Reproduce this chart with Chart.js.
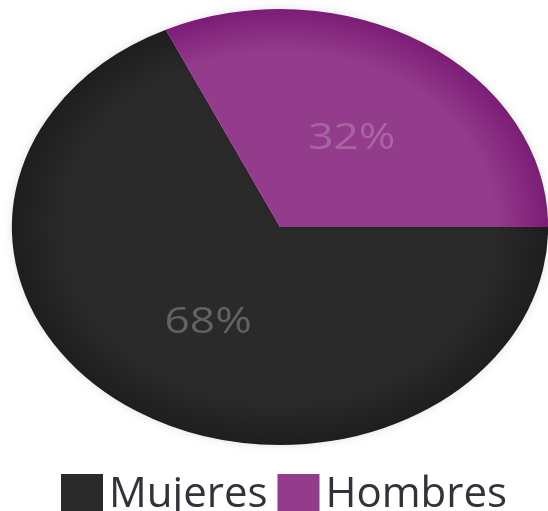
<!DOCTYPE html>
<html>
<head>
<meta charset="utf-8">
<script src="https://cdn.jsdelivr.net/npm/chart.js@4.4.1/dist/chart.umd.min.js"></script>
<style>
  html, body { margin: 0; padding: 0; background: #fff; overflow: hidden; }
  #wrap { width: 548px; height: 511px; }
</style>
</head>
<body>
<div id="wrap"><canvas id="pieChart"></canvas></div>
<script>
const labels = ['Mujeres', 'Hombres'];
const values = [68, 32];
const sliceColors = ['#2a2a2a', '#943c8c'];
const rimColors = ['#1e1e1e', '#7c1c76'];
const valueColors = ['#626262', '#a766a0'];

// the pie in the picture is squashed into an ellipse
const stretchX = 1.23;

function arcCenter(chart) {
  const a = chart.getDatasetMeta(0).data[0];
  return { x: a.x, y: a.y, r: a.outerRadius };
}

function sliceFill(ctx) {
  const chart = ctx.chart;
  const area = chart.chartArea;
  if (!area) return sliceColors[ctx.dataIndex];
  const cx = (area.left + area.right) / 2;
  const cy = (area.top + area.bottom) / 2;
  const r = Math.min(area.right - area.left, area.bottom - area.top) / 2;
  const g = chart.ctx.createRadialGradient(cx, cy, 0, cx, cy, r);
  g.addColorStop(0, sliceColors[ctx.dataIndex]);
  g.addColorStop(0.8, sliceColors[ctx.dataIndex]);
  g.addColorStop(1, rimColors[ctx.dataIndex]);
  return g;
}

const ellipsePie = {
  id: 'ellipsePie',
  beforeDatasetsDraw(chart) {
    const c = arcCenter(chart);
    const ctx = chart.ctx;
    ctx.save();
    ctx.translate(c.x, c.y);
    ctx.scale(stretchX, 1);
    ctx.translate(-c.x, -c.y);
    ctx.shadowColor = 'rgba(0,0,0,0.12)';
    ctx.shadowBlur = 8;
  },
  afterDatasetsDraw(chart) {
    const ctx = chart.ctx;
    ctx.shadowColor = 'transparent';
    ctx.shadowBlur = 0;
    const total = values.reduce((s, v) => s + v, 0);
    ctx.font = '36px "Open Sans"';
    ctx.textAlign = 'center';
    ctx.textBaseline = 'middle';
    chart.getDatasetMeta(0).data.forEach((arc, i) => {
      const p = arc.tooltipPosition();
      ctx.fillStyle = valueColors[i];
      ctx.fillText(Math.round(values[i] / total * 100) + '%', p.x, p.y + 4);
    });
    ctx.restore();
  },
  afterDraw(chart) {
    const ctx = chart.ctx;
    ctx.save();
    ctx.font = '500 42px "Open Sans"';
    ctx.textBaseline = 'alphabetic';
    ctx.textAlign = 'left';
    let x = 61;
    labels.forEach((name, i) => {
      ctx.fillStyle = sliceColors[i];
      ctx.fillRect(x, 474, 42, 42);
      x += 42 + 6;
      ctx.fillStyle = '#30343a';
      ctx.fillText(name, x, 507);
      x += ctx.measureText(name).width + 10;
    });
    ctx.restore();
  }
};

new Chart(document.getElementById('pieChart'), {
  type: 'pie',
  data: {
    labels: labels,
    datasets: [{
      data: values,
      backgroundColor: sliceFill,
      borderWidth: 0
    }]
  },
  options: {
    responsive: true,
    maintainAspectRatio: false,
    animation: false,
    rotation: 90,
    layout: { padding: { top: 9, bottom: 66, left: 12, right: 0 } },
    plugins: {
      legend: { display: false },
      tooltip: { enabled: false }
    }
  },
  plugins: [ellipsePie]
});
</script>
</body>
</html>
